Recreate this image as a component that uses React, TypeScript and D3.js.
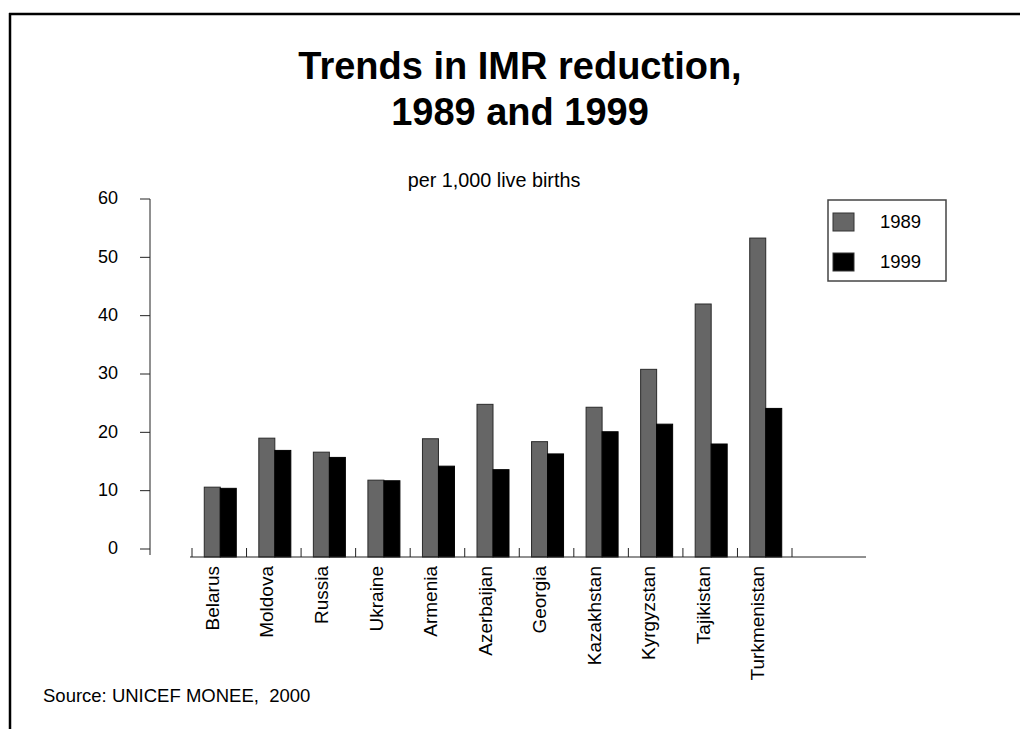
import React from 'react';
import * as d3 from 'd3';

const countries = [
  'Belarus', 'Moldova', 'Russia', 'Ukraine', 'Armenia', 'Azerbaijan',
  'Georgia', 'Kazakhstan', 'Kyrgyzstan', 'Tajikistan', 'Turkmenistan',
];
const imr1989 = [10.6, 19.0, 16.6, 11.8, 18.9, 24.8, 18.4, 24.3, 30.8, 42.0, 53.3];
const imr1999 = [10.4, 16.9, 15.7, 11.7, 14.2, 13.6, 16.3, 20.1, 21.4, 18.0, 24.1];
const seriesNames = ['1989', '1999'];
const seriesColors = ['#666666', '#000000'];
const yTicks = [0, 10, 20, 30, 40, 50, 60];

const W = 1020;
const H = 729;
const FONT = '"Liberation Sans", Arial, sans-serif';

export default function App() {
  // scales
  const x = d3.scaleBand<string>().domain(countries).range([192, 792]);
  const inner = d3.scaleBand<string>().domain(seriesNames).range([0, 32]);
  const y = d3.scaleLinear().domain([0, 60]).range([549, 199]);
  const axisY = 557;
  const axisX = 150;

  const series = [imr1989, imr1999];
  const tickXs = [...countries.map((c) => x(c) as number), 792];

  return (
    <svg
      width={W}
      height={H}
      style={{ position: 'absolute', left: 0, top: 0, background: '#fff' }}
      fontFamily={FONT}
    >
      <rect x={0} y={0} width={W} height={H} fill="#fff" />
      {/* slide frame */}
      <line x1={9} y1={14} x2={W} y2={14} stroke="#000" strokeWidth={2.5} />
      <line x1={10} y1={13} x2={10} y2={H} stroke="#000" strokeWidth={2.5} />

      {/* title */}
      <text x={520} y={79} textAnchor="middle" fontSize={38} fontWeight="bold">
        Trends in IMR reduction,
      </text>
      <text x={520} y={125} textAnchor="middle" fontSize={38} fontWeight="bold">
        1989 and 1999
      </text>
      <text x={494} y={187} textAnchor="middle" fontSize={19.8}>
        per 1,000 live births
      </text>

      {/* y axis */}
      <line x1={axisX} y1={y(60)} x2={axisX} y2={555} stroke="#222" />
      {yTicks.map((t) => (
        <g key={t}>
          <line x1={axisX - 10} x2={axisX} y1={y(t)} y2={y(t)} stroke="#222" />
          <text x={118} y={y(t)} dy="0.3em" textAnchor="end" fontSize={18}>
            {t}
          </text>
        </g>
      ))}

      {/* bars */}
      {countries.map((c, i) => {
        const x0 = (x(c) as number) + x.bandwidth() / 2 - 15;
        return (
          <g key={c}>
            {series.map((vals, s) => (
              <rect
                key={s}
                x={x0 + (inner(seriesNames[s]) as number)}
                y={y(vals[i])}
                width={inner.bandwidth()}
                height={axisY - y(vals[i])}
                fill={seriesColors[s]}
                stroke={s === 0 ? '#2a2a2a' : '#000'}
                strokeWidth={1}
              />
            ))}
          </g>
        );
      })}

      {/* x axis */}
      <line x1={190} x2={866} y1={axisY} y2={axisY} stroke="#222" />
      {tickXs.map((tx, i) => (
        <line key={i} x1={tx} x2={tx} y1={axisY} y2={axisY - 9} stroke="#222" />
      ))}
      {countries.map((c) => {
        const cx = (x(c) as number) + x.bandwidth() / 2 - 15 + inner.bandwidth() / 2;
        return (
          <text
            key={c}
            transform={`translate(${cx},566) rotate(-90)`}
            dy="0.35em"
            textAnchor="end"
            fontSize={19}
          >
            {c}
          </text>
        );
      })}

      {/* legend */}
      <rect x={828} y={200} width={118} height={81} fill="#fff" stroke="#444" strokeWidth={1.5} />
      {seriesNames.map((name, s) => (
        <g key={name}>
          <rect
            x={833}
            y={213 + s * 40}
            width={21}
            height={18}
            fill={seriesColors[s]}
            stroke="#333"
          />
          <text x={880} y={228 + s * 40} fontSize={18.5}>
            {name}
          </text>
        </g>
      ))}

      {/* source */}
      <text x={43} y={702} fontSize={18.5} style={{ whiteSpace: 'pre' }}>
        {'Source: UNICEF MONEE,  2000'}
      </text>
    </svg>
  );
}
